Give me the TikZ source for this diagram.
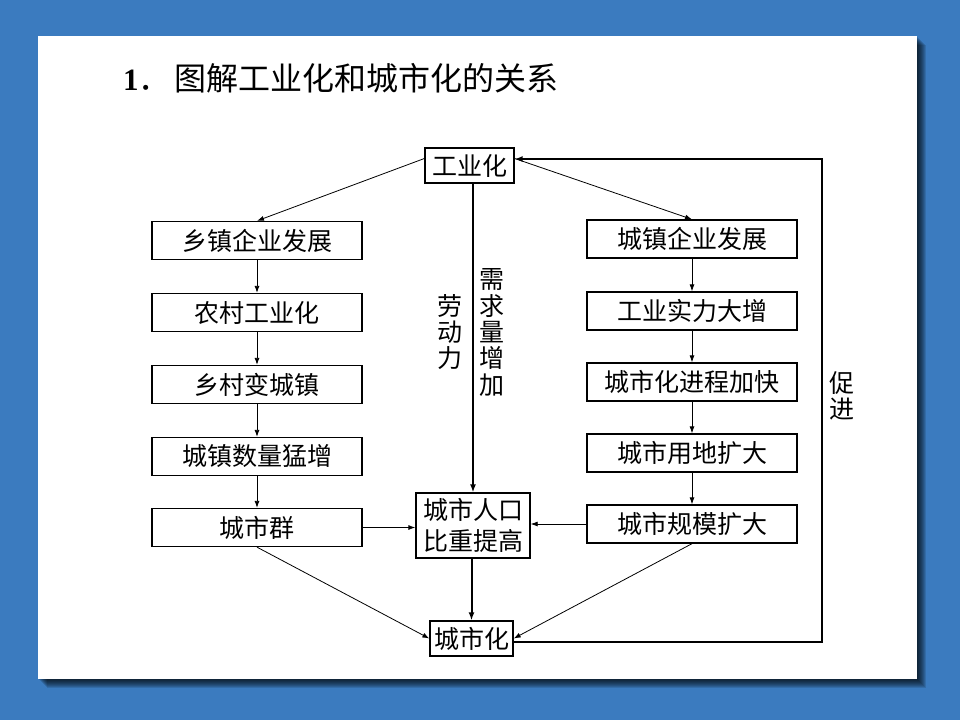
\documentclass[tikz,border=0pt]{standalone}
\usepackage{fontspec}
\setmainfont{Liberation Serif}
\newfontfamily\cjk{Noto Sans CJK SC}
\usetikzlibrary{arrows.meta,calc}
\definecolor{bgblue}{HTML}{3B7BBF}
\begin{document}
\begin{tikzpicture}[x=1pt,y=-1pt,
  box/.style={draw, line width=1.3pt, fill=white, inner sep=0pt, align=center,
    font=\cjk\fontsize{25}{31}\selectfont},
  chainbox/.style={box, minimum width=210pt, minimum height=38pt},
  arr/.style={-{Latex[length=7pt,width=5pt]}, line width=0.8pt},
  thickarr/.style={-{Latex[length=8pt,width=6pt]}, line width=2pt},
  vlabel/.style={font=\cjk\fontsize{25}{26.3}\selectfont, align=center, inner sep=0pt}]
\useasboundingbox (0,0) rectangle (960,720);
\fill[bgblue] (0,0) rectangle (960,720);
\foreach \i in {1,...,9}{
  \fill[black, opacity=0.12] (38+\i,36+\i) rectangle (917+\i,679+\i);
}
\fill[white] (38,36) rectangle (917,679);

\node[anchor=west, inner sep=0pt] (title) at (123,78)
  {\fontsize{31}{34}\selectfont\bfseries 1\cjk\mdseries\fontsize{32}{34}\selectfont ．\kern4pt 图解工业化和城市化的关系};

% top node
\node[box, minimum width=89pt, minimum height=35pt] (gyh) at (469.5,165.5) {工业化};

% left chain
\node[chainbox] (x1) at (257,240.5) {乡镇企业发展};
\node[chainbox] (x2) at (257,312.5) {农村工业化};
\node[chainbox] (x3) at (257,384.5) {乡村变城镇};
\node[chainbox] (x4) at (257,456.5) {城镇数量猛增};
\node[chainbox] (x5) at (257,527.5) {城市群};

% right chain
\node[chainbox] (r1) at (692,239) {城镇企业发展};
\node[chainbox] (r2) at (692,311) {工业实力大增};
\node[chainbox] (r3) at (692,382) {城市化进程加快};
\node[chainbox] (r4) at (692,453) {城市用地扩大};
\node[chainbox] (r5) at (692,524) {城市规模扩大};

% centre
\node[box, minimum width=114pt, minimum height=65pt] (rk) at (473,525.5) {城市人口\\比重提高};
\node[box, minimum width=83pt, minimum height=35pt] (csh) at (471.5,638.5) {城市化};

% labels
\node[vlabel] (ld) at (450,332) {劳\\动\\力};
\node[vlabel] (xq) at (492,332.5) {需\\求\\量\\增\\加};
\node[vlabel] (cj) at (842,396) {促\\进};

% connectors
\draw[arr] ($(gyh.west)+(0,-7)$) -- (x1.north);
\draw[arr] ($(gyh.east)+(0,-7)$) -- (r1.north);
\draw[thickarr] (gyh.south -| rk.north) -- (rk.north);

\draw[arr] (x1) -- (x2);
\draw[arr] (x2) -- (x3);
\draw[arr] (x3) -- (x4);
\draw[arr] (x4) -- (x5);

\draw[arr] (r1) -- (r2);
\draw[arr] (r2) -- (r3);
\draw[arr] (r3) -- (r4);
\draw[arr] (r4) -- (r5);

\draw[arr] (x5.east) -- (x5.east -| rk.west);
\draw[arr] (r5.west) -- (r5.west -| rk.east);
\draw[arr] (x5.south) -- (csh.west);
\draw[arr] (r5.south) -- (csh.east);
\draw[thickarr] (rk.south -| csh.north) -- (csh.north);

\coordinate (fb) at (822,159);
\draw[thickarr] ($(csh.east)+(0,3)$) -| (fb) -- (fb -| gyh.east);
\end{tikzpicture}
\end{document}
